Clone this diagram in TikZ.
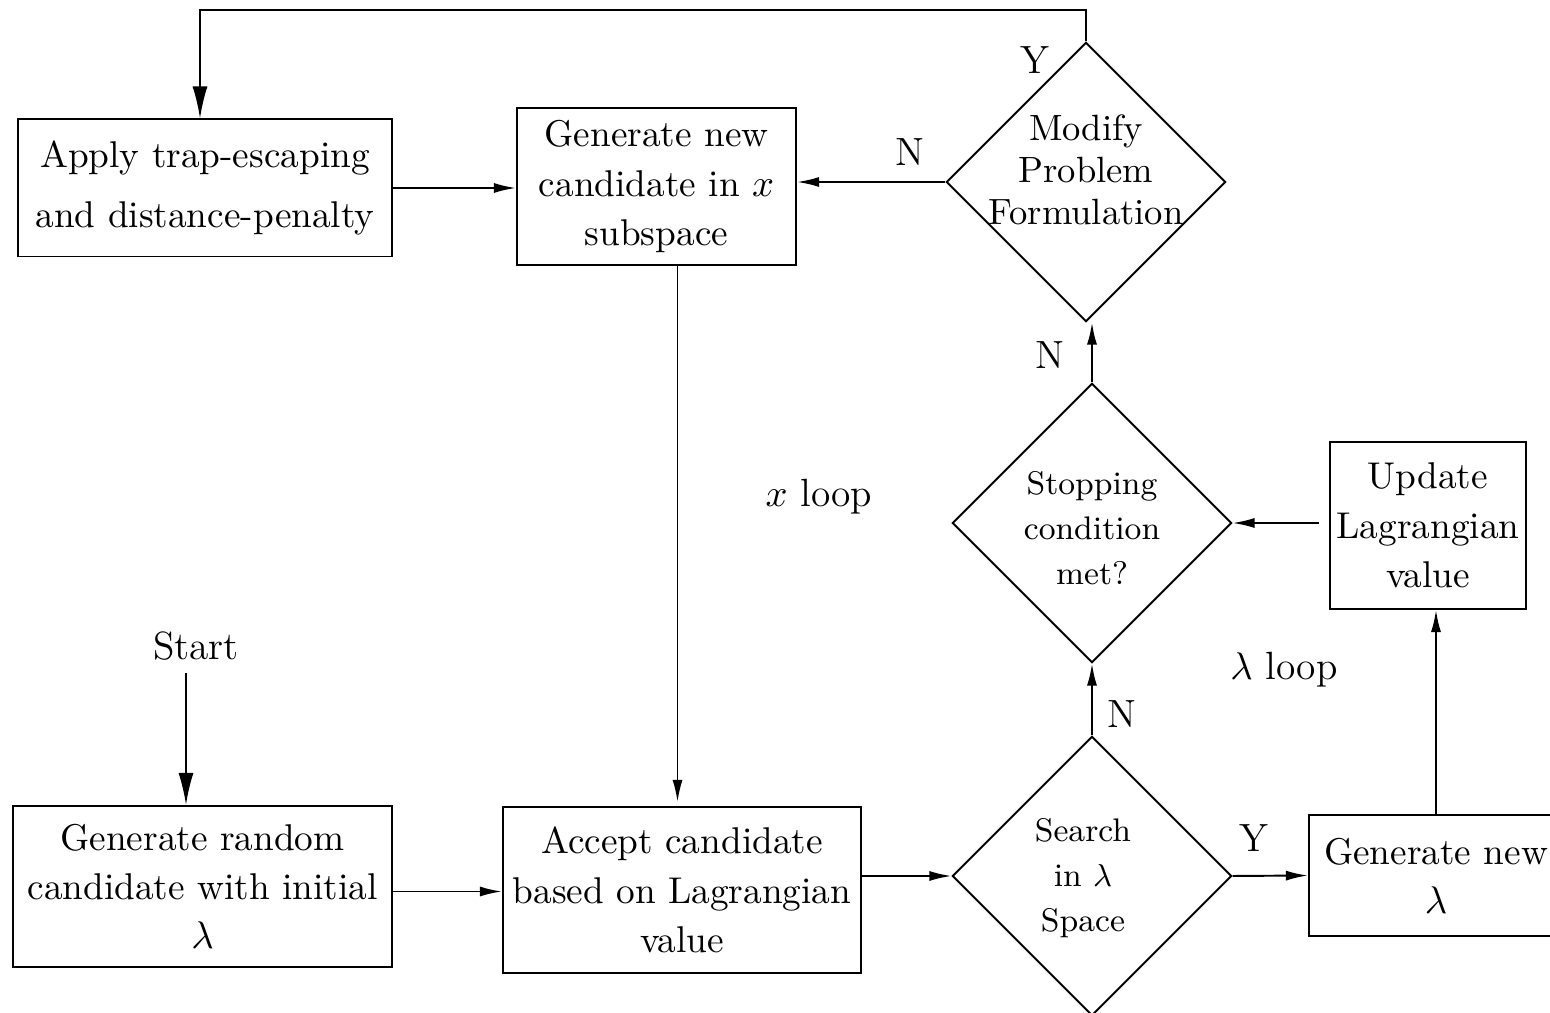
\documentclass[tikz,border=0pt]{standalone}
\usepackage{fontspec}
\usetikzlibrary{positioning,arrows.meta,shapes.geometric}

\begin{document}
\begin{tikzpicture}[
    x=0.01cm, y=-0.01cm,
    line width=0.55pt,
    every node/.style={align=center},
    box/.style={draw, rectangle, inner sep=0pt, font=\fontsize{10.6}{14}\selectfont},
    dia/.style={draw, diamond, minimum width=2.79cm, minimum height=2.79cm, inner sep=0pt},
    diatxt/.style={font=\fontsize{10.4}{12}\selectfont},
    smalltxt/.style={font=\fontsize{9.3}{12.8}\selectfont},
    lbl/.style={font=\fontsize{11.2}{13}\selectfont},
    arr/.style={-{Latex[length=2.2mm,width=1mm]}},
    bigarr/.style={-{Latex[length=3.2mm,width=1.5mm]}}
]
\useasboundingbox (0,0) rectangle (1550,1013);

% boxes
\node[box, minimum width=3.74cm, minimum height=1.37cm] (trap) at (205,188) {Apply trap-escaping\\[3pt]and distance-penalty};
\node[box, minimum width=2.79cm, minimum height=1.57cm] (cand) at (656.5,186.5) {Generate new\\candidate in $x$\\subspace};
\node[box, minimum width=3.79cm, minimum height=1.61cm] (random) at (202.5,886.5) {Generate random\\candidate with initial\\$\lambda$};
\node[box, minimum width=3.58cm, minimum height=1.66cm] (accept) at (682,890) {Accept candidate\\based on Lagrangian\\value};
\node[box, minimum width=1.96cm, minimum height=1.67cm] (upd) at (1428,525.5) {Update\\Lagrangian\\value};
\node[box, minimum width=2.54cm, minimum height=1.21cm] (newlam) at (1436,875.5) {Generate new\\$\lambda$};

% decisions
\node[dia] (mod) at (1086,182) {};
\node[diatxt] (modt) at (1086,170) {Modify\\Problem\\Formulation};
\node[dia] (stop) at (1092,523) {};
\node[smalltxt] (stopt) at (1092,528) {Stopping\\condition\\met?};
\node[dia] (search) at (1092,876) {};
\node[smalltxt] (searcht) at (1083,878) {Search\\in $\lambda$\\Space};

% free labels
\node[lbl] (start) at (196,646) {Start};
\node[lbl] (xloop) at (819,497) {$x$ loop};
\node[lbl] (lloop) at (1284,670) {$\lambda$ loop};
\node[lbl] (ytop) at (1035,60) {Y};
\node[lbl] (nmod) at (910,152) {N};
\node[lbl] (nstop) at (1050,355) {N};
\node[lbl] (nsearch) at (1122,714) {N};
\node[lbl] (ysearch) at (1254,838) {Y};

\coordinate (topleft) at (200,10);

% connectors
\draw[bigarr] ([xshift=-0.1cm]start.south) -- ([xshift=-0.1cm]start.south |- random.north);
\draw[arr] (trap.east) -- (trap.east -| cand.west);
\draw[arr] ([yshift=-0.05cm]random.east) -- ([yshift=-0.05cm]random.east -| accept.west);
\draw[arr] ([xshift=0.21cm]cand.south) -- ([xshift=0.21cm,yshift=0.04cm]cand.south |- accept.north);
\draw[arr] (accept.east |- search.west) -- (search.west);
\draw[arr] (search.east) -- (newlam.west);
\draw[arr] (newlam.north) -- (newlam.north |- upd.south);
\draw[arr] ([xshift=-0.1cm]upd.west |- stop.east) -- (stop.east);
\draw[arr] (search.north) -- (stop.south);
\draw[arr] (stop.north) -- (stop.north |- mod.south);
\draw[arr] (mod.west) -- (cand.east |- mod.west);
\draw[bigarr] (mod.north) |- (topleft) -- (topleft |- trap.north);
\end{tikzpicture}
\end{document}
